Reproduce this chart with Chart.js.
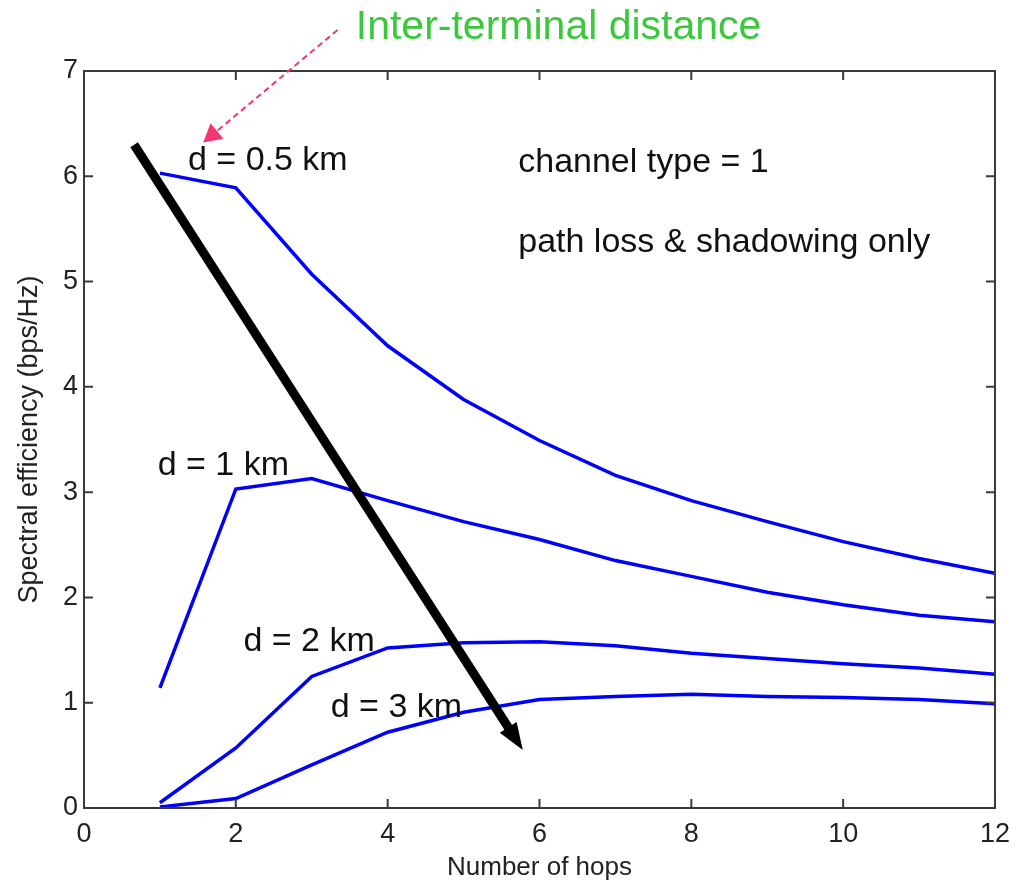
<!DOCTYPE html>
<html>
<head>
<meta charset="utf-8">
<script src="https://cdn.jsdelivr.net/npm/chart.js@4/dist/chart.umd.min.js"></script>
<style>
  html, body { margin: 0; padding: 0; background: #fff; }
  canvas { display: block; }
</style>
</head>
<body>
<canvas id="hopsChart" width="1020" height="885"></canvas>
<script>
const hops = [1, 2, 3, 4, 5, 6, 7, 8, 9, 10, 11, 12];
const eff05 = [6.03, 5.89, 5.07, 4.39, 3.88, 3.49, 3.16, 2.92, 2.72, 2.53, 2.37, 2.23];
const eff1 = [1.14, 3.03, 3.13, 2.92, 2.72, 2.55, 2.35, 2.20, 2.05, 1.93, 1.83, 1.77];
const eff2 = [0.05, 0.57, 1.25, 1.52, 1.57, 1.58, 1.54, 1.47, 1.42, 1.37, 1.33, 1.27];
const eff3 = [0.01, 0.09, 0.41, 0.72, 0.91, 1.03, 1.06, 1.08, 1.06, 1.05, 1.03, 0.99];
const xTicks = [0, 2, 4, 6, 8, 10, 12];
const yTicks = [0, 1, 2, 3, 4, 5, 6, 7];

const FONT = 'Liberation Sans, Arial, sans-serif';

// text notes, placed in data units
const notes = [
  { text: 'Inter-terminal distance', x: 3.58, y: 7.41, size: 41, color: '#3cc83c' },
  { text: 'd = 0.5 km', x: 1.37, y: 6.15, size: 34, color: '#111' },
  { text: 'channel type = 1', x: 5.72, y: 6.13, size: 34, color: '#111' },
  { text: 'path loss & shadowing only', x: 5.72, y: 5.37, size: 34, color: '#111' },
  { text: 'd = 1 km', x: 0.97, y: 3.25, size: 34, color: '#111' },
  { text: 'd = 2 km', x: 2.10, y: 1.58, size: 34, color: '#111' },
  { text: 'd = 3 km', x: 3.25, y: 0.95, size: 34, color: '#111' }
];

// arrows: [from, to] in data units
const arrows = [
  { from: [0.66, 6.30], to: [5.78, 0.55], width: 9, head: 27, half: 10, color: '#000', dash: [] },
  { from: [3.34, 7.39], to: [1.57, 6.32], width: 2, head: 18, half: 10, color: '#f2366f', dash: [6, 4] }
];

function drawArrow(ctx, x1, y1, x2, y2, a) {
  const ang = Math.atan2(y2 - y1, x2 - x1);
  const bx = x2 - Math.cos(ang) * a.head;
  const by = y2 - Math.sin(ang) * a.head;
  ctx.save();
  ctx.strokeStyle = a.color;
  ctx.fillStyle = a.color;
  ctx.lineWidth = a.width;
  ctx.setLineDash(a.dash);
  ctx.beginPath();
  ctx.moveTo(x1, y1);
  ctx.lineTo(bx + Math.cos(ang) * 2, by + Math.sin(ang) * 2);
  ctx.stroke();
  ctx.setLineDash([]);
  ctx.beginPath();
  ctx.moveTo(x2, y2);
  ctx.lineTo(bx + Math.sin(ang) * a.half, by - Math.cos(ang) * a.half);
  ctx.lineTo(bx - Math.sin(ang) * a.half, by + Math.cos(ang) * a.half);
  ctx.closePath();
  ctx.fill();
  ctx.restore();
}

const overlay = {
  id: 'overlay',
  afterDatasetsDraw(chart) {
    const { ctx, chartArea: a, scales: { x, y } } = chart;
    ctx.save();
    // matlab style box with inward ticks
    ctx.strokeStyle = '#3a3a3a';
    ctx.lineWidth = 2;
    ctx.strokeRect(a.left, a.top, a.right - a.left, a.bottom - a.top);
    ctx.beginPath();
    x.ticks.forEach(t => {
      const px = x.getPixelForValue(t.value);
      ctx.moveTo(px, a.bottom); ctx.lineTo(px, a.bottom - 9);
      ctx.moveTo(px, a.top); ctx.lineTo(px, a.top + 9);
    });
    y.ticks.forEach(t => {
      const py = y.getPixelForValue(t.value);
      ctx.moveTo(a.left, py); ctx.lineTo(a.left + 9, py);
      ctx.moveTo(a.right, py); ctx.lineTo(a.right - 9, py);
    });
    ctx.stroke();

    ctx.textAlign = 'left';
    ctx.textBaseline = 'middle';
    notes.forEach(n => {
      ctx.font = n.size + 'px ' + FONT;
      ctx.fillStyle = n.color;
      ctx.fillText(n.text, x.getPixelForValue(n.x), y.getPixelForValue(n.y));
    });
    ctx.restore();

    arrows.forEach(ar => {
      drawArrow(ctx,
        x.getPixelForValue(ar.from[0]), y.getPixelForValue(ar.from[1]),
        x.getPixelForValue(ar.to[0]), y.getPixelForValue(ar.to[1]), ar);
    });
  }
};

const toPts = vals => hops.map((h, i) => ({ x: h, y: vals[i] }));
const lineStyle = { borderColor: '#0000ff', borderWidth: 3.5, pointRadius: 0, fill: false, tension: 0 };

new Chart(document.getElementById('hopsChart').getContext('2d'), {
  type: 'line',
  data: {
    datasets: [
      { label: 'd = 0.5 km', data: toPts(eff05), ...lineStyle },
      { label: 'd = 1 km', data: toPts(eff1), ...lineStyle },
      { label: 'd = 2 km', data: toPts(eff2), ...lineStyle },
      { label: 'd = 3 km', data: toPts(eff3), ...lineStyle }
    ]
  },
  options: {
    responsive: false,
    animation: false,
    layout: { padding: { top: 71, right: 24, left: 0, bottom: 0 } },
    plugins: { legend: { display: false }, tooltip: { enabled: false } },
    scales: {
      x: {
        type: 'linear', min: 0, max: 12,
        afterBuildTicks: s => { s.ticks = xTicks.map(v => ({ value: v })); },
        afterFit: s => { s.height = 77; },
        grid: { display: false, drawTicks: false },
        border: { display: false },
        ticks: { font: { family: FONT, size: 27 }, color: '#222', padding: 10, maxRotation: 0 },
        title: { display: true, text: 'Number of hops', color: '#222',
                 font: { family: FONT, size: 26 }, padding: { top: 0, bottom: 2 } }
      },
      y: {
        min: 0, max: 7,
        afterBuildTicks: s => { s.ticks = yTicks.map(v => ({ value: v })); },
        afterFit: s => { s.width = 84; },
        grid: { display: false, drawTicks: false },
        border: { display: false },
        ticks: { font: { family: FONT, size: 27 }, color: '#222', padding: 6 },
        title: { display: true, text: 'Spectral efficiency (bps/Hz)', color: '#222',
                 font: { family: FONT, size: 27 }, padding: { top: 13, bottom: 0 } }
      }
    }
  },
  plugins: [overlay]
});
</script>
</body>
</html>
